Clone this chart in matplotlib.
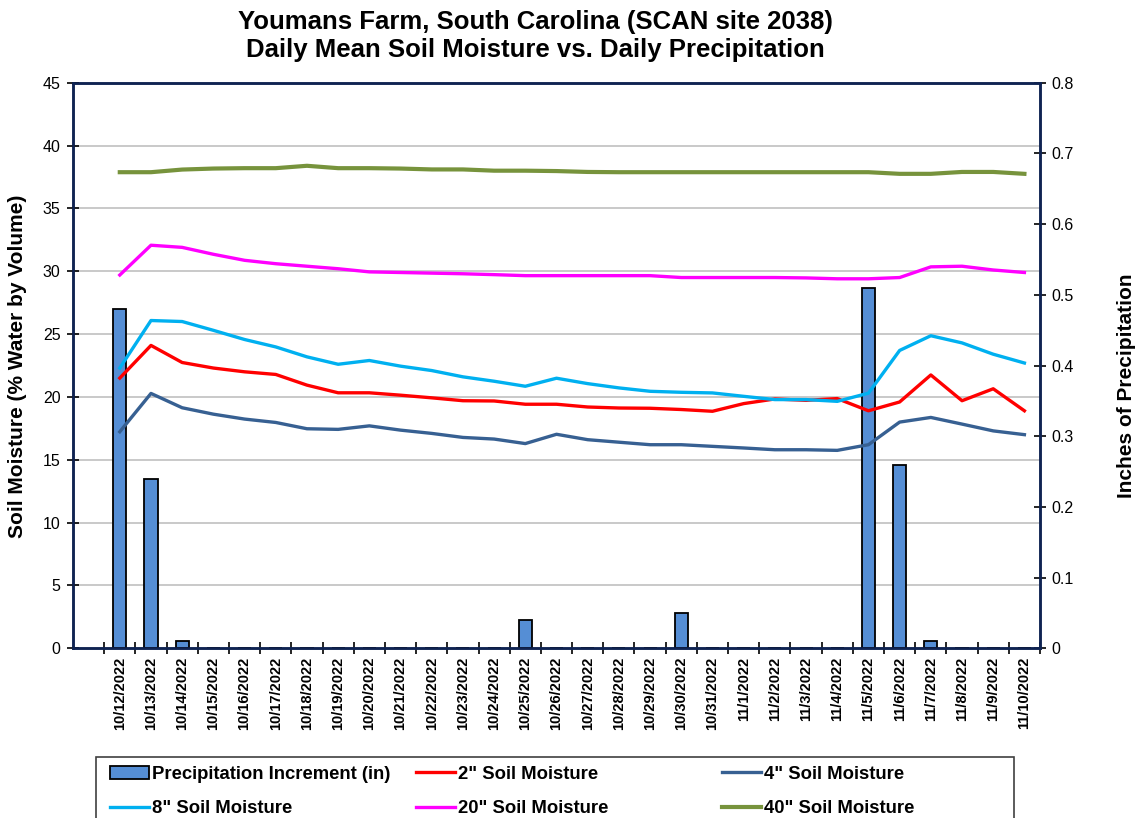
import numpy as np
import matplotlib
matplotlib.use("Agg")
import matplotlib.pyplot as plt
from matplotlib.lines import Line2D
from matplotlib.patches import Patch, Rectangle
from matplotlib.ticker import FixedLocator, MultipleLocator

plt.rcParams["font.family"] = ["Liberation Sans", "DejaVu Sans"]

# -----------------------------------------------------------------------------
# Data
# -----------------------------------------------------------------------------
dates = [
    "10/12/2022", "10/13/2022", "10/14/2022", "10/15/2022", "10/16/2022",
    "10/17/2022", "10/18/2022", "10/19/2022", "10/20/2022", "10/21/2022",
    "10/22/2022", "10/23/2022", "10/24/2022", "10/25/2022", "10/26/2022",
    "10/27/2022", "10/28/2022", "10/29/2022", "10/30/2022", "10/31/2022",
    "11/1/2022", "11/2/2022", "11/3/2022", "11/4/2022", "11/5/2022",
    "11/6/2022", "11/7/2022", "11/8/2022", "11/9/2022", "11/10/2022",
]

precip = [0.48, 0.24, 0.01, 0, 0, 0, 0, 0, 0, 0,
          0, 0, 0, 0.04, 0, 0, 0, 0, 0.05, 0,
          0, 0, 0, 0, 0.51, 0.26, 0.01, 0, 0, 0]

sm_2in = [21.5, 24.1, 22.74, 22.3, 22.0, 21.79, 20.94, 20.33, 20.33, 20.14,
          19.93, 19.7, 19.68, 19.42, 19.42, 19.2, 19.12, 19.1, 19.0, 18.86,
          19.47, 19.84, 19.73, 19.87, 18.9, 19.6, 21.75, 19.7, 20.65, 18.9]

sm_4in = [17.23, 20.28, 19.14, 18.63, 18.24, 17.97, 17.47, 17.42, 17.7, 17.36,
          17.1, 16.78, 16.65, 16.29, 17.03, 16.6, 16.4, 16.2, 16.2, 16.07,
          15.94, 15.8, 15.8, 15.75, 16.2, 18.0, 18.37, 17.84, 17.3, 17.0]

sm_8in = [22.3, 26.08, 26.0, 25.3, 24.57, 23.98, 23.19, 22.6, 22.9, 22.45,
          22.1, 21.6, 21.25, 20.85, 21.49, 21.06, 20.72, 20.45, 20.37, 20.32,
          20.05, 19.79, 19.79, 19.65, 20.3, 23.7, 24.87, 24.3, 23.4, 22.7]

sm_20in = [29.7, 32.07, 31.9, 31.35, 30.87, 30.6, 30.4, 30.2, 29.95, 29.9,
           29.85, 29.8, 29.73, 29.65, 29.65, 29.65, 29.65, 29.65, 29.5, 29.5,
           29.5, 29.5, 29.47, 29.4, 29.4, 29.5, 30.35, 30.4, 30.1, 29.9]

sm_40in = [37.88, 37.88, 38.09, 38.17, 38.2, 38.2, 38.39, 38.2, 38.2, 38.17,
           38.1, 38.1, 38.0, 38.0, 37.97, 37.9, 37.88, 37.88, 37.88, 37.88,
           37.88, 37.88, 37.88, 37.88, 37.88, 37.75, 37.75, 37.9, 37.9, 37.75]

# -----------------------------------------------------------------------------
# Canvas
# -----------------------------------------------------------------------------
navy = "#0F2352"
fig = plt.figure(figsize=(11.37, 8.18), dpi=100)
ax2 = fig.add_axes([0.0642, 0.2074, 0.8505, 0.6915])  # precipitation (right)
ax = ax2.twinx()  # soil moisture (left), drawn on top
ax.set_zorder(ax2.get_zorder() + 1)
ax.patch.set_visible(False)
ax.yaxis.tick_left()
ax.yaxis.set_label_position("left")
ax2.yaxis.tick_right()

x = np.arange(len(dates))

# Bars
ax2.bar(x, precip, width=0.42, color="#558ED5", edgecolor="black",
        linewidth=1.3, zorder=3)
ax2.set_ylim(0, 0.8)
# horizontal gridlines follow the left scale (every 5 %)
ax2.yaxis.set_minor_locator(FixedLocator(np.arange(5, 45, 5) * 0.8 / 45))
ax2.grid(which="minor", axis="y", color="#C0C0C0", linewidth=1.2, zorder=0)
ax2.set_axisbelow(True)
ax2.set_yticks([0, 0.1, 0.2, 0.3, 0.4, 0.5, 0.6, 0.7, 0.8])
ax2.set_yticklabels(["0", "0.1", "0.2", "0.3", "0.4", "0.5", "0.6", "0.7", "0.8"])
ax2.tick_params(axis="y", which="major", direction="inout", length=8,
                width=1.2, labelsize=11.5, pad=4, colors="black")
ax2.tick_params(axis="y", which="minor", length=0)

# Lines
lw = 2.4
ax.plot(x, sm_2in, color="#FF0000", linewidth=lw, zorder=3)
ax.plot(x, sm_4in, color="#376092", linewidth=lw, zorder=3)
ax.plot(x, sm_8in, color="#00B0F0", linewidth=lw, zorder=3)
ax.plot(x, sm_20in, color="#FF00FF", linewidth=lw, zorder=3)
ax.plot(x, sm_40in, color="#77933C", linewidth=lw + 0.6, zorder=3)
ax.set_ylim(0, 45)
ax.yaxis.set_major_locator(MultipleLocator(5))
ax.tick_params(axis="y", direction="inout", length=8, width=1.2,
               labelsize=11.5, pad=5)

# X axis: one blank category slot on the left, ticks between categories
ax2.set_xlim(-1.5, len(dates) - 0.5)
ax2.set_xticks(x)
ax2.set_xticklabels(dates, rotation=90, fontweight="bold", fontsize=10.5)
ax2.xaxis.set_minor_locator(FixedLocator(np.arange(-0.5, len(dates), 1.0)))
ax2.tick_params(axis="x", which="major", length=0, pad=6)
ax2.tick_params(axis="x", which="minor", direction="inout", length=8, width=1.2)

for a in (ax, ax2):
    for s in a.spines.values():
        s.set_color(navy)
        s.set_linewidth(1.8)

# Titles and labels
fig.text(0.4705, 0.973, "Youmans Farm, South Carolina (SCAN site 2038)",
         ha="center", va="center", fontsize=18.5, fontweight="bold")
fig.text(0.4705, 0.939, "Daily Mean Soil Moisture vs. Daily Precipitation",
         ha="center", va="center", fontsize=18.5, fontweight="bold")
fig.text(18 / 1137, 1 - 366 / 818, "Soil Moisture (% Water by Volume)",
         rotation=90, ha="center", va="center", fontsize=15, fontweight="bold")
fig.text(1127 / 1137, 1 - 386 / 818, "Inches of Precipitation",
         rotation=90, ha="center", va="center", fontsize=15, fontweight="bold")

# Legend: boxed, three columns of two entries
fig.add_artist(Rectangle((96 / 1137, -0.01), (1014 - 96) / 1137,
                         1 - 757 / 818 + 0.01, transform=fig.transFigure,
                         facecolor="white", edgecolor="#404040", linewidth=1.2))
col_items = [
    [(Patch(facecolor="#558ED5", edgecolor="black", linewidth=1.3),
      "Precipitation Increment (in)"),
     (Line2D([], [], color="#00B0F0", linewidth=lw), "8\" Soil Moisture")],
    [(Line2D([], [], color="#FF0000", linewidth=lw), "2\" Soil Moisture"),
     (Line2D([], [], color="#FF00FF", linewidth=lw), "20\" Soil Moisture")],
    [(Line2D([], [], color="#376092", linewidth=lw), "4\" Soil Moisture"),
     (Line2D([], [], color="#77933C", linewidth=lw + 0.6), "40\" Soil Moisture")],
]
col_x = [108, 414, 720]
for cx, items in zip(col_x, col_items):
    fig.legend([h for h, _ in items], [t for _, t in items],
               loc="upper left", bbox_to_anchor=(cx / 1137, 1 - 764 / 818),
               frameon=False, handlelength=2.1, handletextpad=0.2,
               labelspacing=0.95, borderaxespad=0, borderpad=0.1,
               prop={"weight": "bold", "size": 13.3})

fig.savefig("out.png", dpi=100)
